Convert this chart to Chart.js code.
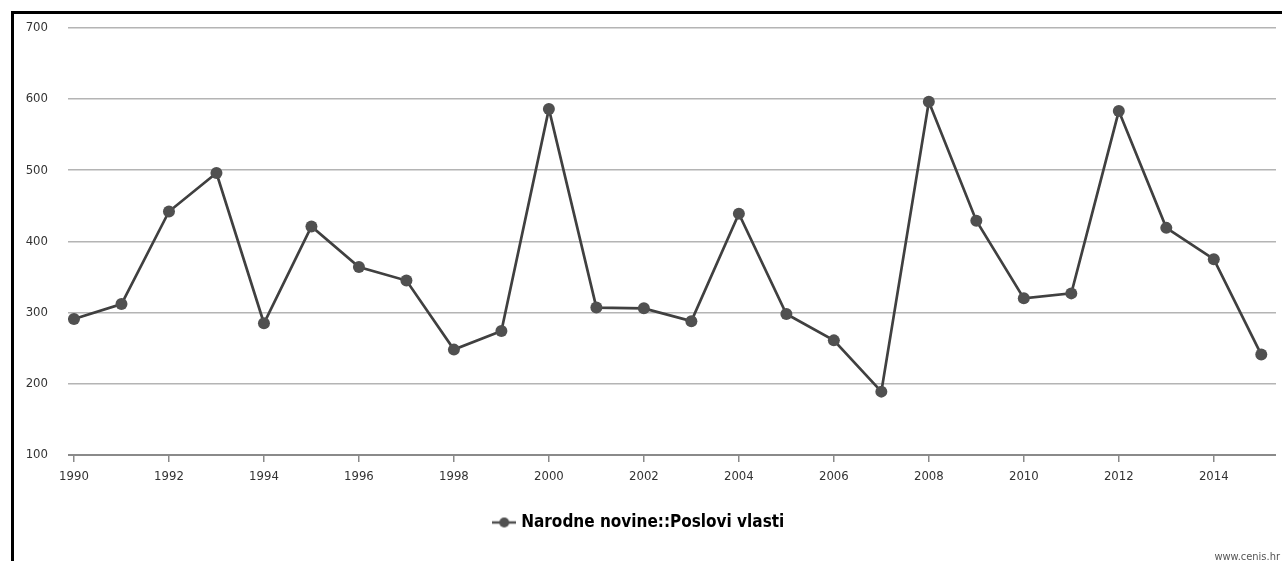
<!DOCTYPE html>
<html lang="hr">
<head>
  <meta charset="UTF-8">
  <title>Narodne novine::Poslovi vlasti</title>
  <script src="https://cdn.jsdelivr.net/npm/chart.js"></script>
  <style>
    body {
      margin: 0;
      background-color: #fff;
      width: 1282px;
      height: 561px;
      overflow: hidden;
      position: relative;
      font-family: "Liberation Sans Narrow", "DejaVu Sans Condensed", Arial, sans-serif;
    }

    .frame {
      position: absolute;
      left: 11px;
      top: 11px;
      width: 1400px;
      height: 700px;
      border-left: 3px solid #000;
      border-top: 3px solid #000;
    }

    .chart-container {
      position: absolute;
      left: 0;
      top: 0;
      width: 1282px;
      height: 561px;
    }

    .source {
      position: absolute;
      right: 2px;
      top: 550px;
      font-size: 11px;
      color: #555;
    }
  </style>
</head>
<body>
  <div class="frame"></div>
  <div class="chart-container">
    <canvas id="lineChart"></canvas>
  </div>
  <div class="source">www.cenis.hr</div>

  <script>
    const years = [1990, 1991, 1992, 1993, 1994, 1995, 1996, 1997, 1998, 1999, 2000, 2001, 2002,
                   2003, 2004, 2005, 2006, 2007, 2008, 2009, 2010, 2011, 2012, 2013, 2014, 2015];
    const counts = [291, 312, 442, 496, 285, 421, 364, 345, 248, 274, 586, 307, 306,
                    288, 439, 298, 261, 189, 596, 429, 320, 327, 583, 419, 375, 241];
    const xTicks = [1990, 1992, 1994, 1996, 1998, 2000, 2002, 2004, 2006, 2008, 2010, 2012, 2014];
    const yTicks = [100, 200, 300, 400, 500, 600, 700];
    const seriesName = 'Narodne novine::Poslovi vlasti';

    const fontFamily = '"Liberation Sans Narrow", "DejaVu Sans Condensed", Arial, sans-serif';
    const lineColor = '#404040';
    const pointColor = '#505050';

    // legend symbol: short line with a dot in the middle
    const legendIcon = document.createElement('canvas');
    legendIcon.width = 24;
    legendIcon.height = 12;
    const ic = legendIcon.getContext('2d');
    ic.strokeStyle = pointColor;
    ic.lineWidth = 2.5;
    ic.beginPath();
    ic.moveTo(0, 6);
    ic.lineTo(24, 6);
    ic.stroke();
    ic.fillStyle = pointColor;
    ic.beginPath();
    ic.arc(12, 6, 5, 0, Math.PI * 2);
    ic.fill();

    const ctx = document.getElementById('lineChart').getContext('2d');

    const lineChart = new Chart(ctx, {
      type: 'line',
      data: {
        datasets: [{
          label: seriesName,
          data: years.map((y, i) => ({ x: y, y: counts[i] })),
          borderColor: lineColor,
          backgroundColor: pointColor,
          borderWidth: 2.7,
          pointRadius: 6,
          pointBackgroundColor: pointColor,
          pointBorderColor: pointColor,
          pointBorderWidth: 0,
          tension: 0
        }]
      },
      options: {
        responsive: true,
        maintainAspectRatio: false,
        animation: false,
        layout: {
          padding: { left: 0, right: 2, top: 22, bottom: 20 }
        },
        plugins: {
          legend: {
            display: true,
            position: 'bottom',
            labels: {
              usePointStyle: true,
              color: '#111',
              padding: 10,
              font: { family: fontFamily, size: 17, weight: 'bold' },
              generateLabels: (chart) => [{
                text: seriesName,
                pointStyle: legendIcon,
                fillStyle: pointColor,
                strokeStyle: pointColor,
                lineWidth: 0,
                datasetIndex: 0
              }]
            }
          },
          tooltip: { enabled: false }
        },
        scales: {
          x: {
            type: 'linear',
            min: 1989.874,
            max: 2015.31,
            afterBuildTicks: (scale) => {
              scale.ticks = xTicks.map(v => ({ value: v }));
            },
            afterFit: (scale) => {
              scale.height = 49;
            },
            border: { display: false },
            grid: {
              drawOnChartArea: false,
              drawTicks: true,
              tickLength: 7,
              color: '#8a8a8a',
              lineWidth: 1.5
            },
            ticks: {
              color: '#333',
              padding: 7,
              maxRotation: 0,
              font: { family: fontFamily, size: 13 },
              callback: (v) => String(v)
            }
          },
          y: {
            min: 100,
            max: 700,
            afterBuildTicks: (scale) => {
              scale.ticks = yTicks.map(v => ({ value: v }));
            },
            afterFit: (scale) => {
              scale.width = 68;
            },
            border: { display: false },
            grid: {
              drawTicks: false,
              color: (c) => c.tick && c.tick.value === 100 ? '#8a8a8a' : '#b4b4b4',
              lineWidth: (c) => c.tick && c.tick.value === 100 ? 2 : 1.5
            },
            ticks: {
              color: '#333',
              padding: 20,
              font: { family: fontFamily, size: 13 }
            }
          }
        }
      }
    });
  </script>
</body>
</html>
